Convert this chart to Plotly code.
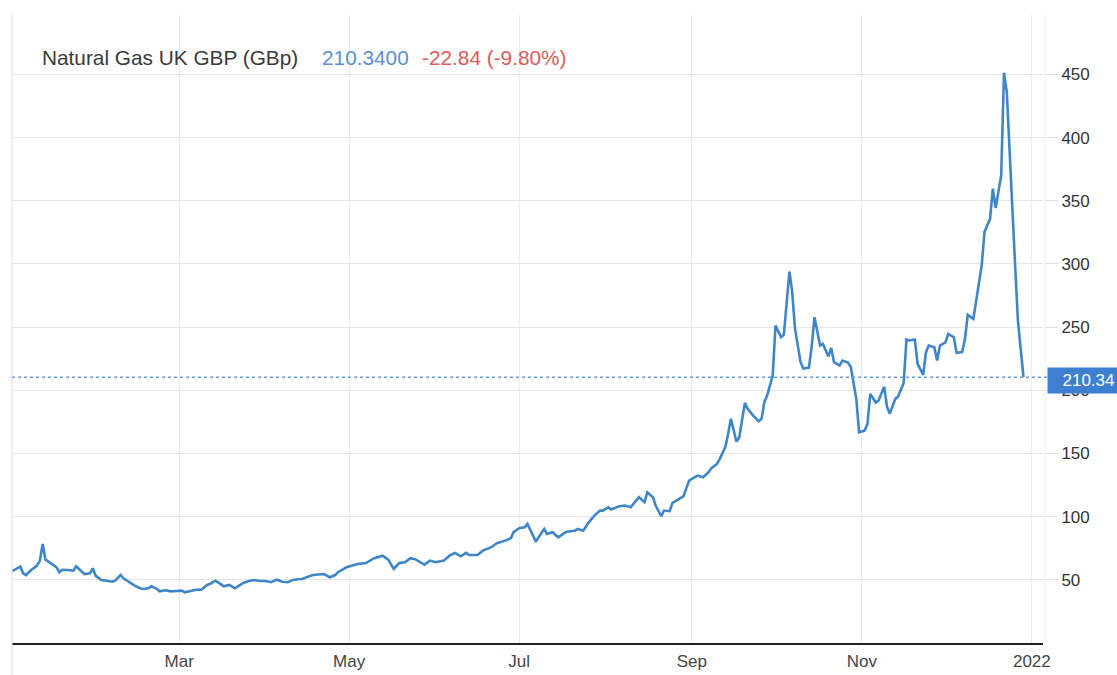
import plotly.graph_objects as go

dates = [
"2020-12-31","2021-01-01","2021-01-03","2021-01-04","2021-01-05","2021-01-07","2021-01-09","2021-01-10","2021-01-11","2021-01-12",
"2021-01-14","2021-01-16","2021-01-17","2021-01-18","2021-01-20","2021-01-22","2021-01-23","2021-01-25","2021-01-26","2021-01-28",
"2021-01-29","2021-01-30","2021-02-01","2021-02-03","2021-02-05","2021-02-06","2021-02-08","2021-02-09","2021-02-11","2021-02-13",
"2021-02-15","2021-02-16","2021-02-18","2021-02-19","2021-02-21","2021-02-22","2021-02-24","2021-02-26","2021-02-28","2021-03-02",
"2021-03-03","2021-03-05","2021-03-07","2021-03-09","2021-03-11","2021-03-12","2021-03-14","2021-03-15","2021-03-17","2021-03-19",
"2021-03-21","2021-03-24","2021-03-26","2021-03-28","2021-03-30","2021-04-01","2021-04-03","2021-04-05","2021-04-07","2021-04-09",
"2021-04-11","2021-04-14","2021-04-16","2021-04-18","2021-04-22","2021-04-24","2021-04-26","2021-04-27","2021-04-30","2021-05-02",
"2021-05-04","2021-05-07","2021-05-10","2021-05-13","2021-05-15","2021-05-17","2021-05-19","2021-05-21","2021-05-23","2021-05-25",
"2021-05-28","2021-05-30","2021-06-01","2021-06-04","2021-06-06","2021-06-08","2021-06-10","2021-06-12","2021-06-13","2021-06-16",
"2021-06-18","2021-06-21","2021-06-23","2021-06-26","2021-06-28","2021-06-29","2021-07-01","2021-07-03","2021-07-04","2021-07-06",
"2021-07-07","2021-07-08","2021-07-10","2021-07-11","2021-07-13","2021-07-15","2021-07-18","2021-07-21","2021-07-22","2021-07-24",
"2021-07-26","2021-07-28","2021-07-30","2021-07-31","2021-08-02","2021-08-03","2021-08-06","2021-08-08","2021-08-10","2021-08-12",
"2021-08-13","2021-08-15","2021-08-16","2021-08-18","2021-08-19","2021-08-21","2021-08-22","2021-08-24","2021-08-25","2021-08-27",
"2021-08-29","2021-08-30","2021-08-31","2021-09-01","2021-09-03","2021-09-05","2021-09-07","2021-09-08","2021-09-10","2021-09-11",
"2021-09-13","2021-09-14","2021-09-15","2021-09-17","2021-09-18","2021-09-20","2021-09-21","2021-09-23","2021-09-25","2021-09-26",
"2021-09-27","2021-09-28","2021-09-30","2021-10-01","2021-10-03","2021-10-04","2021-10-06","2021-10-07","2021-10-08","2021-10-10",
"2021-10-11","2021-10-13","2021-10-14","2021-10-15","2021-10-17","2021-10-18","2021-10-20","2021-10-21","2021-10-22","2021-10-24",
"2021-10-25","2021-10-27","2021-10-28","2021-10-30","2021-10-31","2021-11-02","2021-11-03","2021-11-04","2021-11-06","2021-11-07",
"2021-11-09","2021-11-10","2021-11-11","2021-11-13","2021-11-14","2021-11-16","2021-11-17","2021-11-18","2021-11-20","2021-11-21",
"2021-11-23","2021-11-24","2021-11-25","2021-11-27","2021-11-28","2021-11-29","2021-12-01","2021-12-02","2021-12-04","2021-12-05",
"2021-12-07","2021-12-08","2021-12-09","2021-12-11","2021-12-12","2021-12-14","2021-12-15","2021-12-17","2021-12-18","2021-12-19",
"2021-12-21","2021-12-22","2021-12-23","2021-12-25","2021-12-26","2021-12-27","2021-12-28","2021-12-29",
]

prices = [
56.8,57.8,60.4,55.2,53.8,58.0,61.2,65.2,78.4,66.0,
63.3,59.9,56.0,58.0,57.8,57.3,60.7,56.8,54.6,55.2,
59.1,53.3,49.9,49.3,48.5,49.3,53.8,51.2,48.1,45.4,
43.3,42.8,43.3,44.9,42.8,40.9,41.7,40.9,41.2,41.4,
40.1,41.4,42.2,42.2,45.9,46.7,49.3,48.0,44.9,45.9,
43.3,47.5,49.1,49.9,49.1,49.1,48.1,50.1,48.5,48.1,
50.1,50.7,52.5,53.8,54.6,52.0,53.8,56.0,59.9,61.2,
62.5,63.3,67.1,69.1,66.0,58.6,63.3,63.9,67.1,66.0,
62.0,65.2,63.9,65.2,69.1,71.3,68.6,71.3,69.7,69.7,
73.1,75.8,78.9,81.0,82.9,87.7,90.8,91.5,94.2,85.0,
80.2,83.7,90.3,86.3,87.7,83.7,88.1,88.9,90.3,88.9,
95.5,100.8,104.8,104.8,107.4,105.6,108.3,108.8,107.4,112.7,
115.4,111.4,119.3,115.4,108.8,100.3,104.8,104.3,110.8,113.5,
116.2,122.5,128.5,129.8,132.5,131.2,135.2,138.4,141.7,145.7,
155.0,165.5,177.4,159.4,162.9,190.0,185.3,180.0,175.5,177.4,
190.6,195.8,211.7,251.3,242.0,244.0,294.0,277.7,248.6,222.2,
217.2,218.0,235.0,257.8,235.4,236.7,226.8,233.5,222.2,219.6,
223.5,222.0,218.6,193.2,166.8,168.1,173.4,197.1,190.3,191.9,
202.8,187.2,181.3,193.2,195.0,205.8,240.2,239.4,240.2,220.9,
212.2,230.2,235.4,234.1,223.5,235.4,238.0,244.6,242.0,229.6,
230.2,240.7,259.7,256.5,271.1,298.8,325.2,335.7,359.5,344.2,
370.0,451.3,436.0,351.5,298.8,255.0,233.18,210.34,
]

last_price = 210.34
change_text = "-22.84 (-9.80%)"
title_text = "Natural Gas UK GBP (GBp)"
last_text = "210.3400"

x_tick_vals = ["2021-03-01", "2021-05-01", "2021-07-01", "2021-09-01", "2021-11-01", "2022-01-01"]
x_tick_text = ["Mar", "May", "Jul", "Sep", "Nov", "2022"]
y_tick_vals = [50, 100, 150, 200, 250, 300, 350, 400, 450]

FONT = "Liberation Sans, Arial, sans-serif"
LINE = "#3f86c8"

fig = go.Figure()
fig.add_trace(go.Scatter(x=dates, y=prices, mode="lines",
                         line=dict(color=LINE, width=2.6), showlegend=False))

fig.update_layout(
    width=1117, height=675, autosize=False,
    margin=dict(l=12, r=74, t=15, b=32),
    paper_bgcolor="white", plot_bgcolor="white",
    font=dict(family=FONT, color="#333333", size=17),
    xaxis=dict(
        range=["2020-12-31", "2022-01-05"],
        tickvals=x_tick_vals, ticktext=x_tick_text,
        showgrid=True, gridcolor="#ececec", gridwidth=1,
        showline=True, linecolor="#222222", linewidth=2,
        ticks="outside", ticklen=2, tickcolor="rgba(0,0,0,0)",
        tickfont=dict(family=FONT, size=17, color="#444444"),
        zeroline=False, automargin=False,
    ),
    yaxis=dict(
        side="right", range=[0, 497],
        tickvals=y_tick_vals,
        showgrid=True, gridcolor="#e6e6e6", gridwidth=1,
        ticks="outside", ticklen=14, tickcolor="#e0e0e0",
        tickfont=dict(family=FONT, size=17, color="#333333"),
        zeroline=False, showline=False, automargin=False,
    ),
)

# left and right borders
fig.add_shape(type="line", xref="paper", yref="paper", x0=0, x1=0, y0=-0.052, y1=1,
              line=dict(color="#dddddd", width=1))
fig.add_shape(type="line", xref="paper", yref="paper", x0=1.002, x1=1.002, y0=0, y1=1,
              line=dict(color="#eeeeee", width=1))

# last-price dotted line
fig.add_shape(type="line", xref="paper", yref="y", x0=0, x1=1.004, y0=last_price, y1=last_price,
              line=dict(color="#6a9fd8", width=1.5, dash="dot"))

# last price box
fig.add_annotation(xref="paper", yref="y", x=1, y=last_price, xanchor="left", yanchor="middle",
                   xshift=4, yshift=-3, text=f"{last_price:.2f}", showarrow=False,
                   font=dict(family=FONT, size=17, color="white"),
                   bgcolor="#3d80d2", borderpad=3, width=75, align="center")

# header
fig.add_annotation(xref="paper", yref="paper", x=0.0272, y=0.933, xanchor="left", yanchor="middle",
                   text=title_text, showarrow=False, font=dict(family=FONT, size=20.8, color="#3a3a3a"))
fig.add_annotation(xref="paper", yref="paper", x=0.2987, y=0.933, xanchor="left", yanchor="middle",
                   text=last_text, showarrow=False, font=dict(family=FONT, size=20.8, color="#5b8fd0"))
fig.add_annotation(xref="paper", yref="paper", x=0.3957, y=0.933, xanchor="left", yanchor="middle",
                   text=change_text, showarrow=False, font=dict(family=FONT, size=20.8, color="#e05a5a"))

fig.write_html("out.html",
               config={"responsive": False, "displayModeBar": False},
               post_script="document.body.style.margin='0';document.body.style.overflow='hidden';")
